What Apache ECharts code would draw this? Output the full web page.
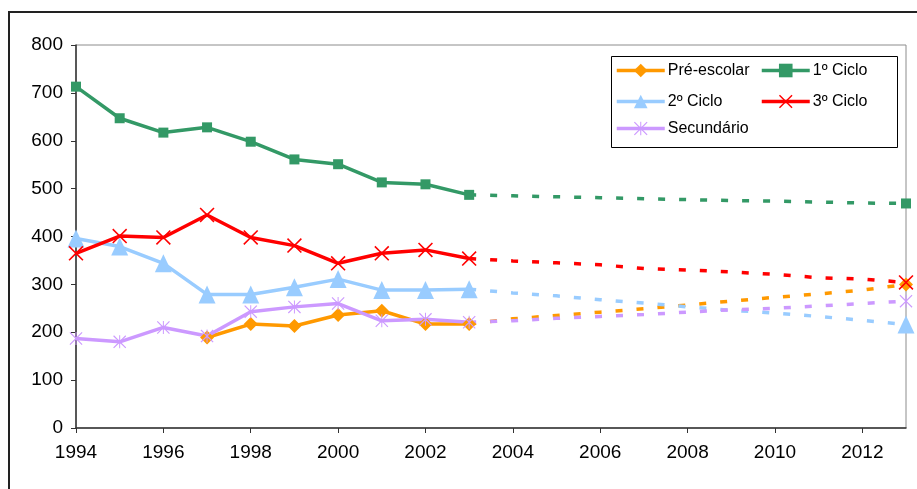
<!DOCTYPE html>
<html>
<head>
<meta charset="utf-8">
<script src="https://cdn.jsdelivr.net/npm/echarts@6/dist/echarts.min.js"></script>
<style>html,body{margin:0;padding:0;background:#fff;}#c{width:917px;height:489px;}</style>
</head>
<body>
<div id="c"></div>
<script>
// ---- data ----
const years = ['1994','1995','1996','1997','1998','1999','2000','2001','2002','2003','2004','2005','2006','2007','2008','2009','2010','2011','2012','2013'];
const seriesNames = ['Pré-escolar', '1º Ciclo', '2º Ciclo', '3º Ciclo', 'Secundário'];
// observed 1994-2003
const preEscolar = [null, null, null, 189, 217, 213, 236, 245, 217, 217];
const ciclo1     = [713, 647, 617, 628, 598, 561, 551, 513, 509, 487];
const ciclo2     = [396, 379, 344, 279, 279, 294, 311, 288, 288, 290];
const ciclo3     = [365, 401, 398, 445, 398, 381, 344, 365, 372, 354];
const secundario = [187, 180, 210, 192, 243, 253, 260, 224, 227, 221];
// projections 2003-2013
const projPre = [217, 228, 235, 242, 249, 257, 265, 273, 280, 288, 300];
const projC1  = [487, 485, 483, 481, 479, 477, 475, 474, 472, 470, 469];
const projC2  = [290, 282, 276, 268, 261, 253, 246, 240, 233, 225, 216];
const projC3  = [354, 349, 345, 341, 333, 330, 326, 321, 314, 311, 304];
const projSec = [221, 224, 229, 233, 237, 242, 247, 250, 255, 260, 265];

// ---- styles ----
const colors = ['#FF9900', '#339966', '#99CCFF', '#FF0000', '#CC99FF'];
const xPath = 'path://M0,1.2L1.2,0L8,6.8L14.8,0L16,1.2L9.2,8L16,14.8L14.8,16L8,9.2L1.2,16L0,14.8L6.8,8Z';
const starPath = 'path://M0,1L1,0L8,7L15,0L16,1L9,8L16,15L15,16L8,9L1,16L0,15L7,8Z M7.4,0H8.6V16H7.4Z';
const symbols = ['diamond', 'rect', 'triangle', xPath, starPath];
const symbolSizes = [[14, 14], [10, 10], [17, 18], [15, 15], [13, 13]];
const observed = [preEscolar, ciclo1, ciclo2, ciclo3, secundario];
const projected = [projPre, projC1, projC2, projC3, projSec];
const FONT = '"Liberation Sans", Arial, sans-serif';

const series = [];
observed.forEach((arr, i) => {
  const data = years.map((y, k) => (k < arr.length ? arr[k] : null));
  series.push({
    name: seriesNames[i], type: 'line', data: data,
    symbol: symbols[i], symbolSize: symbolSizes[i], showAllSymbol: true,
    lineStyle: { color: colors[i], width: 3.5 },
    itemStyle: { color: colors[i], borderWidth: 0 },
    emphasis: { disabled: true }, z: 2
  });
});
projected.forEach((arr, i) => {
  const start = years.length - arr.length;
  const data = years.map((y, k) => {
    if (k < start) return null;
    const v = arr[k - start];
    return k === years.length - 1 ? { value: v } : { value: v, symbol: 'none' };
  });
  series.push({
    name: seriesNames[i], type: 'line', data: data,
    symbol: symbols[i], symbolSize: symbolSizes[i], showAllSymbol: true,
    lineStyle: { color: colors[i], width: 3.5, type: [7, 14], cap: 'butt' },
    itemStyle: { color: colors[i], borderWidth: 0 },
    emphasis: { disabled: true }, z: 2
  });
});

const legendPos = [[615, 62], [760, 62], [615, 93], [760, 93], [615, 120]];
const legends = seriesNames.map((n, i) => ({
  data: [n], left: legendPos[i][0], top: legendPos[i][1], padding: 0,
  itemWidth: 48, itemHeight: 17, itemGap: 0, selectedMode: false, z: 10,
  lineStyle: { width: 3.5 },
  textStyle: { fontFamily: FONT, fontSize: 16, color: '#000', lineHeight: 17, padding: [0, 0, 0, -2] }
}));

const chart = echarts.init(document.getElementById('c'), null, { renderer: 'canvas' });
chart.setOption({
  animation: false,
  backgroundColor: '#fff',
  grid: { left: 76, right: 11, top: 45, bottom: 61, show: true, borderColor: '#8c8c8c', borderWidth: 1, backgroundColor: 'transparent' },
  legend: legends,
  graphic: [
    { type: 'rect', shape: { x: 9, y: 12, width: 1000, height: 1000 }, style: { fill: 'none', stroke: '#222', lineWidth: 2 }, z: 1, silent: true },
    { type: 'rect', shape: { x: 611.5, y: 56.5, width: 286, height: 91 }, style: { fill: '#fff', stroke: '#000', lineWidth: 1 }, z: 3, silent: true }
  ],
  xAxis: {
    type: 'category', data: years, boundaryGap: false,
    axisLine: { lineStyle: { color: '#333', width: 1.5 } },
    axisTick: { show: true, interval: 1, length: 5, lineStyle: { color: '#333' } },
    axisLabel: { interval: 1, margin: 15, color: '#000', fontFamily: FONT, fontSize: 19 },
    splitLine: { show: false }
  },
  yAxis: {
    type: 'value', min: 0, max: 800, interval: 100,
    axisLine: { show: true, lineStyle: { color: '#333', width: 1.5 } },
    axisTick: { show: true, length: 5, lineStyle: { color: '#333' } },
    axisLabel: { margin: 13, color: '#000', fontFamily: FONT, fontSize: 19 },
    splitLine: { show: false }
  },
  series: series
});
</script>
</body>
</html>
